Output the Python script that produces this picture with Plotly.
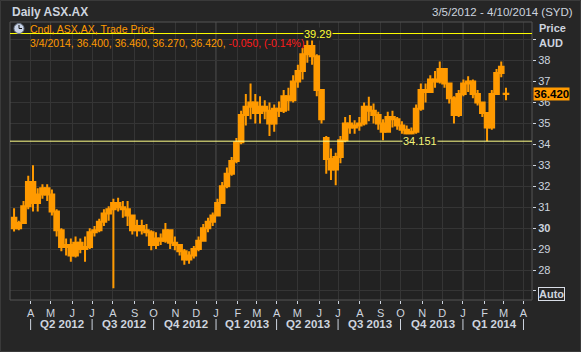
import pandas as pd
import plotly.graph_objects as go

# ---------------- data (weekly candles) ----------------
first_week = "2012-03-07 12:00"
opens = [30.5, 30.0, 30.25, 31.05, 32.2, 31.2, 31.6, 31.9, 31.6, 30.8,
         29.9, 29.1, 29.2, 28.7, 29.3, 29.0, 29.1, 29.8, 29.9, 30.3,
         30.7, 30.9, 31.2, 31.0, 30.9, 30.6, 29.9, 30.1, 29.9, 29.8,
         29.2, 29.5, 29.4, 29.9, 29.3, 29.2, 28.9, 28.5, 28.7, 29.0,
         29.4, 30.0, 30.3, 30.6, 31.2, 32.0, 32.6, 33.2, 34.1, 35.4,
         35.8, 36.0, 35.5, 35.8, 35.6, 35.0, 35.7, 35.6, 36.3, 36.1,
         37.0, 37.5, 38.3, 38.7, 38.2, 36.6, 34.3, 33.3, 32.8, 33.4,
         34.2, 35.0, 34.8, 34.9, 35.0, 35.8, 35.6, 35.4, 35.0, 34.6,
         35.3, 35.2, 34.9, 34.7, 34.5, 34.6, 35.7, 36.6, 36.5, 37.1,
         37.0, 37.6, 36.9, 36.2, 35.4, 36.4, 36.9, 37.0, 36.4, 36.0,
         35.5, 34.8, 36.4, 37.4, 36.4]
highs = [30.95, 30.35, 31.3, 32.5, 33.0, 31.9, 32.1, 32.1, 31.85, 30.9,
         30.0, 29.5, 29.5, 29.6, 29.5, 29.6, 30.0, 30.1, 30.45, 30.9,
         31.05, 31.4, 31.45, 31.3, 31.3, 30.6, 30.4, 30.4, 30.2, 29.9,
         29.8, 29.75, 30.25, 29.9, 29.6, 29.2, 29.0, 28.9, 29.15, 29.6,
         30.2, 30.5, 30.75, 31.4, 32.2, 32.9, 33.4, 34.3, 35.6, 36.4,
         36.9, 36.4, 36.3, 36.1, 36.0, 35.9, 36.05, 36.6, 36.7, 37.3,
         37.8, 38.6, 39.29, 39.1, 38.3, 36.6, 34.4, 33.8, 33.6, 34.4,
         35.3, 35.4, 35.15, 35.3, 36.0, 36.27, 35.95, 35.55, 35.2, 35.55,
         35.6, 35.3, 35.1, 34.9, 34.8, 35.9, 36.9, 36.9, 37.3, 37.5,
         37.95, 37.6, 36.9, 36.3, 36.6, 37.1, 37.25, 37.1, 36.6, 36.0,
         35.5, 36.6, 37.6, 37.95, 36.7]
lows = [29.84, 29.9, 30.2, 30.9, 30.8, 30.8, 31.4, 31.3, 30.6, 29.6,
        28.9, 28.7, 28.4, 28.6, 28.8, 28.4, 29.0, 29.6, 29.8, 30.1,
        30.35, 27.13, 30.8, 30.5, 30.1, 29.7, 29.6, 29.7, 29.6, 28.95,
        29.0, 29.2, 29.3, 29.0, 28.95, 28.7, 28.25, 28.3, 28.55, 28.9,
        29.35, 29.8, 30.1, 30.6, 31.15, 31.9, 32.5, 33.1, 34.0, 34.9,
        35.2, 35.0, 35.0, 35.2, 34.4, 34.6, 35.3, 35.5, 35.6, 36.0,
        36.7, 37.1, 37.9, 37.8, 36.3, 35.0, 32.6, 32.3, 32.05, 33.1,
        34.1, 34.5, 34.5, 34.65, 34.9, 35.1, 35.0, 34.7, 34.2, 34.6,
        34.8, 34.7, 34.5, 34.3, 34.2, 34.5, 35.6, 36.0, 36.5, 36.7,
        36.9, 36.7, 35.95, 35.0, 35.3, 36.3, 36.5, 36.2, 35.85, 35.3,
        34.151, 34.7, 36.4, 37.2, 36.1]
closes = [30.0, 30.25, 31.05, 32.2, 31.2, 31.6, 31.9, 31.6, 30.8, 29.9,
          29.1, 29.2, 28.7, 29.3, 29.0, 29.1, 29.8, 29.9, 30.3, 30.7,
          30.9, 31.2, 31.0, 30.9, 30.6, 29.9, 30.1, 29.9, 29.8, 29.2,
          29.5, 29.4, 29.9, 29.3, 29.2, 28.9, 28.5, 28.7, 29.0, 29.4,
          30.0, 30.3, 30.6, 31.2, 32.0, 32.6, 33.2, 34.1, 35.4, 35.8,
          36.0, 35.5, 35.8, 35.6, 35.0, 35.7, 35.6, 36.3, 36.1, 37.0,
          37.5, 38.3, 38.7, 38.2, 36.6, 35.2, 33.3, 32.8, 33.4, 34.2,
          35.0, 34.8, 34.9, 35.0, 35.8, 35.6, 35.4, 35.0, 34.6, 35.3,
          35.2, 34.9, 34.7, 34.5, 34.6, 35.7, 36.6, 36.5, 37.1, 37.0,
          37.6, 36.9, 36.2, 35.4, 36.4, 36.9, 37.0, 36.4, 36.0, 35.5,
          34.8, 36.4, 37.4, 37.7, 36.42]

high_line = 39.29
low_line = 34.151
last_bar = ["3/4/2014", "36.400", "36.460", "36.270", "36.420"]
last_change = ["-0.050", "(-0.14%)"]
y_ticks = list(range(27, 40))
x_start, x_end = "2012-03-01 04:48", "2014-04-14"

# ---------------- styling ----------------
W, H = 581, 352
L, R, T, B = 10, 532, 22, 300
ORANGE = "#FF9A00"
TXT = "#CDD4DF"
PLOT_BG = "#222222"
PAPER_BG = "#262626"
GRID = "#353535"
FONT = "Liberation Sans"


def px(x):
    return (x - L) / (R - L)


def py(y):
    return (B - y) / (B - T)


dates = pd.date_range(first_week, periods=len(closes), freq="7D")

fig = go.Figure(go.Candlestick(
    x=dates, open=opens, high=highs, low=lows, close=closes,
    increasing=dict(line=dict(color=ORANGE, width=2), fillcolor=ORANGE),
    decreasing=dict(line=dict(color=ORANGE, width=2), fillcolor=ORANGE),
    whiskerwidth=0, hoverinfo="skip",
))

months = pd.date_range("2012-04-01", "2014-04-01", freq="BMS")
month_text = [d.strftime("%b")[0] for d in months]
quarters = pd.date_range("2012-04-01", "2014-04-01", freq="BQS")

fig.update_layout(
    width=W, height=H, autosize=False,
    margin=dict(l=L, r=W - R, t=T, b=H - B, pad=0),
    paper_bgcolor=PAPER_BG, plot_bgcolor=PLOT_BG,
    showlegend=False, boxgap=0,
    font=dict(family=FONT, color=TXT, size=11),
    xaxis=dict(
        type="date", range=[x_start, x_end],
        rangebreaks=[dict(bounds=["sat", "mon"])],
        rangeslider=dict(visible=False),
        tickmode="array", tickvals=months, ticktext=month_text,
        showgrid=True, gridcolor=GRID, gridwidth=1,
        ticks="outside", ticklen=3, tickcolor=TXT,
        tickfont=dict(family=FONT, size=11, color=TXT),
        showline=False, zeroline=False,
    ),
    yaxis=dict(
        side="right", range=[26.57, 39.84],
        tickmode="array", tickvals=y_ticks,
        ticktext=["" if v in (27, 39) else ("<b>30</b>" if v == 30 else str(v)) for v in y_ticks],
        showgrid=True, gridcolor=GRID, gridwidth=1,
        ticks="outside", ticklen=3, tickcolor=TXT,
        tickfont=dict(family=FONT, size=11, color=TXT),
        showline=False, zeroline=False,
    ),
)

shapes = []
# plot frame
shapes.append(dict(type="rect", xref="paper", yref="paper", x0=0, x1=1, y0=0, y1=1,
                   line=dict(color="#555555", width=1), layer="above"))
# year boundary lines
for d in ["2013-01-01", "2014-01-01"]:
    shapes.append(dict(type="line", xref="x", yref="paper", x0=d, x1=d, y0=0, y1=1,
                       line=dict(color="#3c3c3c", width=2), layer="below"))
# high / low reference lines
shapes.append(dict(type="line", xref="paper", yref="y", x0=0, x1=1, y0=high_line, y1=high_line,
                   line=dict(color="#FFFF00", width=1)))
shapes.append(dict(type="line", xref="paper", yref="y", x0=0, x1=1, y0=low_line, y1=low_line,
                   line=dict(color="#FFFF88", width=1)))
# quarter separators
for q in quarters:
    shapes.append(dict(type="line", xref="x", yref="paper", x0=q, x1=q, y0=py(319), y1=py(330),
                       line=dict(color=TXT, width=1)))
# clock icon
shapes.append(dict(type="circle", xref="paper", yref="paper", x0=px(14), x1=px(24), y0=py(33.5), y1=py(23.5),
                   fillcolor="#C9D3E6", line=dict(color="#6f7a8c", width=1)))
shapes.append(dict(type="line", xref="paper", yref="paper", x0=px(19), x1=px(19), y0=py(28.5), y1=py(25),
                   line=dict(color="#111111", width=1)))
shapes.append(dict(type="line", xref="paper", yref="paper", x0=px(19), x1=px(22), y0=py(28.5), y1=py(28.5),
                   line=dict(color="#111111", width=1)))
# outer frame
shapes.append(dict(type="rect", xref="paper", yref="paper", x0=px(0.5), x1=px(580.5), y0=py(351.5), y1=py(0.5),
                   line=dict(color="#3a3a3a", width=1), layer="below"))
fig.update_layout(shapes=shapes)

ann = []


def a(x, y, text, **kw):
    d = dict(xref="paper", yref="paper", x=x, y=y, text=text, showarrow=False,
             xanchor="left", yanchor="middle", font=dict(family=FONT, size=11, color=TXT))
    d.update(kw)
    ann.append(d)


a(px(10), py(11.5), "<b>Daily ASX.AX</b>", font=dict(family=FONT, size=12, color=TXT))
a(px(575), py(12.5), "3/5/2012 - 4/10/2014 (SYD)", xanchor="right",
  font=dict(family=FONT, size=11.5, color=TXT))
a(px(28), py(29), "Cndl, ASX.AX, Trade Price", font=dict(family=FONT, size=10.5, color=ORANGE))
a(px(28), py(43),
  "<span style='color:%s'>%s, </span><span style='color:#FF1A1A'>%s</span>"
  % (ORANGE, ", ".join(last_bar), ", ".join(last_change)),
  font=dict(family=FONT, size=10.5, color=ORANGE))
a(px(318), high_line, "%.2f" % high_line, xanchor="center", yref="y",
  bgcolor=PLOT_BG, borderpad=0, font=dict(family=FONT, size=11, color="#FFFF33"))
a(px(419.5), low_line, "%.3f" % low_line, xanchor="center", yref="y",
  bgcolor=PLOT_BG, borderpad=0, font=dict(family=FONT, size=11, color="#F4F47A"))
a(px(532.5), closes[-1], "<b>%.3f</b>" % closes[-1], yref="y",
  bgcolor=ORANGE, borderpad=0, font=dict(family=FONT, size=11.5, color="#000000"))
a(px(537), py(28), "<b>Price</b>")
a(px(537), py(42.5), "<b>AUD</b>")
a(px(538), py(293.5), "<b>Auto</b>", bordercolor="#D8DDE6", borderwidth=1, borderpad=0)

for q in quarters[:-1]:
    nxt = q + pd.DateOffset(months=3)
    center = q + (nxt - q) / 2
    ann.append(dict(xref="x", yref="paper", x=center, y=py(324.5), showarrow=False,
                    text="<b>Q%d %d</b>" % ((q.month - 1) // 3 + 1, q.year),
                    xanchor="center", yanchor="middle",
                    font=dict(family=FONT, size=11.5, color=TXT)))
fig.update_layout(annotations=ann)

fig.write_html("out.html")
